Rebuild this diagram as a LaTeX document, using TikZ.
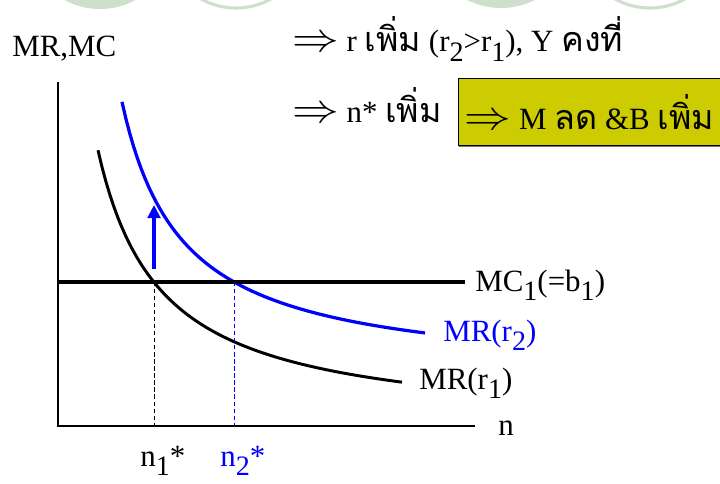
\documentclass[tikz,border=0pt]{standalone}
\usepackage{fontspec}
\setmainfont{Liberation Serif}
\newfontfamily\thaifont[Script=Thai, Scale=1.1]{Loma}
\newcommand{\thai}[1]{{\thaifont #1}}
\newcommand{\lo}[1]{\raisebox{-7pt}{\fontsize{20}{20}\selectfont #1}}
\newcommand{\imp}{\scalebox{1.6}[1.4]{$\Rightarrow$}}
\usetikzlibrary{arrows.meta, shadows}
\definecolor{mint}{RGB}{206,224,204}
\definecolor{boxyellow}{RGB}{204,204,0}
\begin{document}
\begin{tikzpicture}[x=0.025cm, y=-0.025cm,
    every node/.style={font=\fontsize{22}{26}\selectfont, inner sep=0pt},
    deco/.style={fill=mint},
    ring/.style={draw=mint, line width=2.2pt},
    axis/.style={line width=1.1pt},
    mcline/.style={line width=2.2pt},
    mr1/.style={line width=2.1pt, black},
    mr2/.style={line width=2.3pt, blue},
    guide/.style={line width=0.7pt, dash pattern=on 3pt off 2pt},
    uparrow/.style={-{Triangle[length=0.33cm, width=0.32cm]}, line width=2.8pt, blue},
    hibox/.style={draw, fill=boxyellow, minimum width=6.55cm, minimum height=1.675cm,
        drop shadow={shadow xshift=0.4pt, shadow yshift=-1.3pt, fill=black!55, opacity=1}}]
\useasboundingbox (0,0) rectangle (720,484);
% slide decoration
\fill[deco] (100,-66) circle (75);
\draw[ring] (236,-64) circle (72);
\fill[deco] (501,-67) circle (75);
\draw[ring] (650,-64) circle (72);
% axes
\coordinate (O) at (58,426);
\coordinate (ytop) at (58,82);
\node[anchor=base west] (nlab) at (498,435) {n};
\node[anchor=base west] (ylab) at (12,57) {MR,MC};
\draw[axis] (ytop) -- (O) -- (475,426);
% curves
\draw[mr1] plot[domain=98:402, samples=80] (\x, {430 - 175.42/((\x-35.3)/100)});
\draw[mr2] plot[domain=122:425, samples=80] (\x, {379 - 167.35/((\x-61.6)/100)});
\node[anchor=base west] (mr1lab) at (419,389) {MR(r\lo{1})};
\node[anchor=base west, blue] (mr2lab) at (443,341) {MR(r\lo{2})};
% MC line
\coordinate (mcL) at (58,282);
\node[anchor=base west] (mclab) at (475,291) {MC\lo{1}(=b\lo{1})};
\draw[mcline] (mcL) -- (465,282);
% equilibria
\coordinate (e1) at (154,282);
\coordinate (e2) at (234,282);
\node[anchor=base west] (n1) at (140,466) {n\lo{1}*};
\node[anchor=base west, blue] (n2) at (220,466) {n\lo{2}*};
\draw[guide] (e1) -- (154,426);
\draw[guide, blue] (e2) -- (234,426);
\coordinate (arrS) at (154,269);
\coordinate (arrE) at (154,205);
\draw[uparrow] (arrS) -- (arrE);
% statements
\node[anchor=base west] (rrise) at (292,52) {\imp{} r \thai{เพิ่ม} (r\lo{2}>r\lo{1}), Y \thai{คงที่}};
\node[anchor=base west] (nrise) at (292,123) {\imp{} n* \thai{เพิ่ม}};
\node[hibox, anchor=north west] (mbox) at (458,78) {\imp{} M \thai{ลด} \&B \thai{เพิ่ม}};
\end{tikzpicture}
\end{document}
